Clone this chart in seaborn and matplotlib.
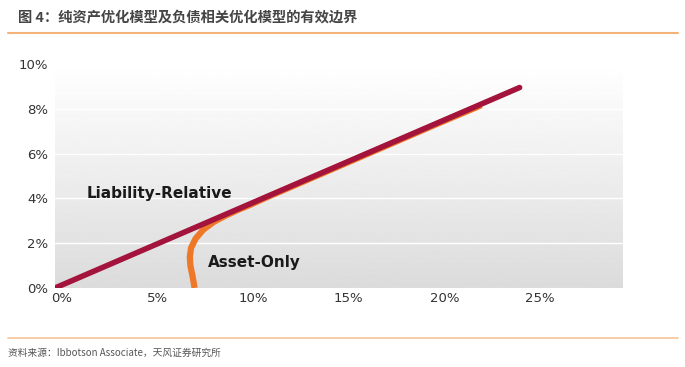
import numpy as np
import seaborn as sns
import matplotlib.pyplot as plt
import matplotlib.transforms as mtransforms
from matplotlib.lines import Line2D

# values (percent)
liab_x = [0.0, 24.3]
liab_y = [0.0, 8.95]
asset_x = [7.3, 7.2, 7.08, 7.05, 7.12, 7.35, 7.75, 8.3, 8.9, 9.5, 10.2, 11.0,
           12.5, 15.0, 17.5, 20.0, 22.3]
asset_y = [0.0, 0.5, 1.0, 1.4, 1.8, 2.2, 2.6, 2.95, 3.22, 3.46, 3.71, 4.02,
           4.57, 5.49, 6.41, 7.33, 8.16]
x_ticks = [0, 5, 10, 15, 20, 25]
y_ticks = [0, 2, 4, 6, 8, 10]

title = '图 4：纯资产优化模型及负债相关优化模型的有效边界'
source = '资料来源：Ibbotson Associate，天风证券研究所'

sns.set_style('white')
plt.rcParams['font.family'] = ['DejaVu Sans', 'Noto Sans CJK SC']

fig = plt.figure(figsize=(6.85, 3.67), dpi=100)
ax = fig.add_axes([0.0803, 0.2153, 0.829, 0.6103])

# gray gradient background, white at the top
grad = np.linspace(0.86, 1.0, 256).reshape(-1, 1)
ax.imshow(grad, extent=[0, 29.7, 0, 10], origin='lower', cmap='gray',
          vmin=0, vmax=1, aspect='auto', zorder=0)
for yv in [2, 4, 6, 8]:
    ax.axhline(yv, color='white', lw=1, zorder=1)

sns.lineplot(x=asset_x, y=asset_y, sort=False, color='#ee7828', lw=4.5,
             ax=ax, zorder=3, solid_capstyle='butt')
sns.lineplot(x=liab_x, y=liab_y, sort=False, color='#a3133c', lw=4,
             ax=ax, zorder=4, solid_capstyle='round')

ax.set_xlim(0, 29.7)
ax.set_ylim(0, 10)
ax.set_xticks(x_ticks)
ax.set_xticklabels([f'{v}%' for v in x_ticks])
ax.set_yticks(y_ticks)
ax.set_yticklabels([f'{v}%' for v in y_ticks])
ax.tick_params(axis='both', length=0, labelsize=9.5, labelcolor='#333333')
ax.tick_params(axis='x', pad=3)
ax.tick_params(axis='y', pad=5)
shift = mtransforms.ScaledTranslation(7 / 100, 0, fig.dpi_scale_trans)
for lab in ax.get_xticklabels():
    lab.set_transform(lab.get_transform() + shift)
sns.despine(ax=ax, left=True, bottom=True)

ax.text(1.67, 4.2, 'Liability-Relative', fontsize=11, fontweight='bold',
        color='#1a1a1a', va='center', ha='left', zorder=5)
ax.text(8.0, 1.16, 'Asset-Only', fontsize=11, fontweight='bold',
        color='#1a1a1a', va='center', ha='left', zorder=5)

fig.text(18 / 685, 1 - 17 / 367, title, fontsize=10.3, fontweight='bold',
         color='#454545', va='center', ha='left',
         family=['Noto Sans CJK SC', 'DejaVu Sans'])
fig.add_artist(Line2D([8 / 685, 678 / 685], [1 - 33 / 367, 1 - 33 / 367],
                      color='#f2b27a', lw=1.5))
fig.add_artist(Line2D([8 / 685, 678 / 685], [1 - 338 / 367, 1 - 338 / 367],
                      color='#f5c597', lw=1.2))
fig.text(8 / 685, 1 - 353 / 367, source, fontsize=7, color='#555555',
         va='center', ha='left', family=['Noto Sans CJK SC', 'DejaVu Sans'])

fig.savefig('out.png', dpi=100)
